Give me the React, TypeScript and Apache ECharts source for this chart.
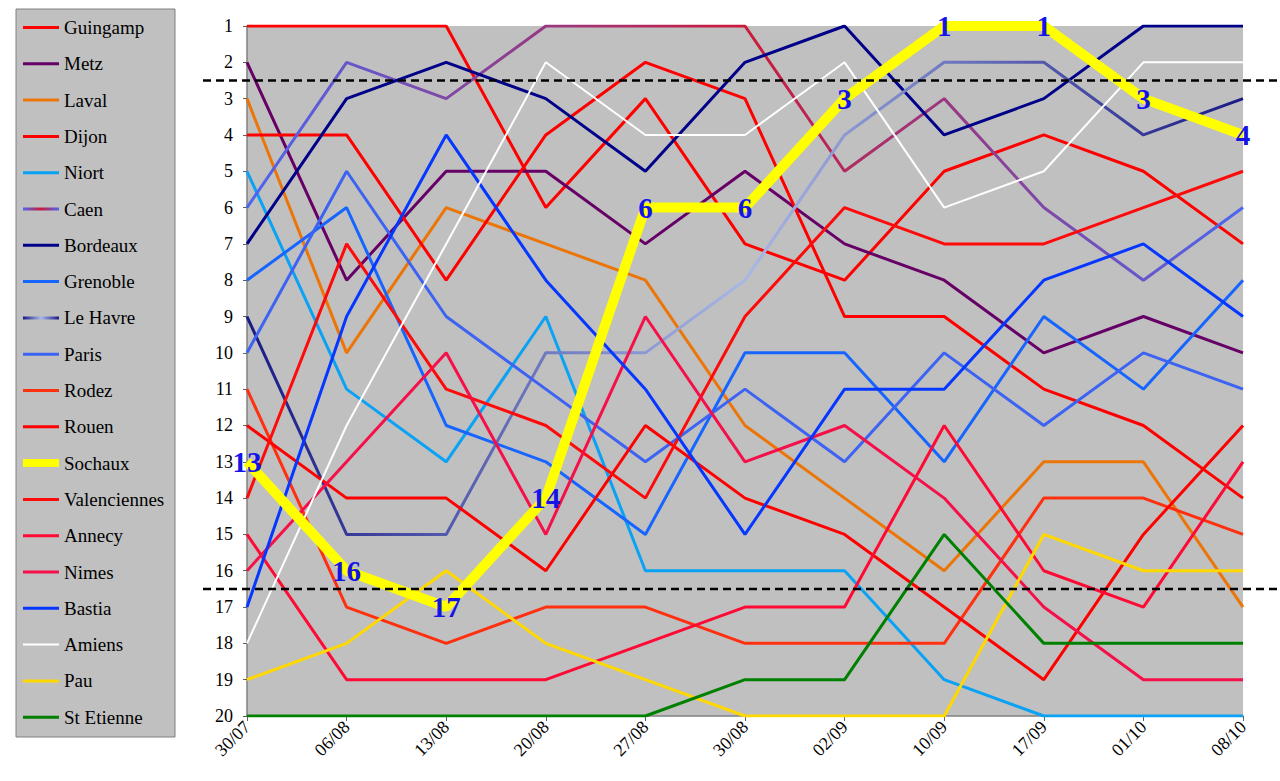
import { useEffect, useRef } from 'react';
import * as echarts from 'echarts';

// match days
const dates = ['30/07', '06/08', '13/08', '20/08', '27/08', '30/08', '02/09', '10/09', '17/09', '01/10', '08/10'];

// ranking of each club after each match day
const guingamp = [1, 1, 1, 6, 3, 7, 8, 5, 4, 5, 7];
const metz = [2, 8, 5, 5, 7, 5, 7, 8, 10, 9, 10];
const laval = [3, 10, 6, 7, 8, 12, 14, 16, 13, 13, 17];
const dijon = [4, 4, 8, 4, 2, 3, 9, 9, 11, 12, 14];
const niort = [5, 11, 13, 9, 16, 16, 16, 19, 20, 20, 20];
const caen = [6, 2, 3, 1, 1, 1, 5, 3, 6, 8, 6];
const bordeaux = [7, 3, 2, 3, 5, 2, 1, 4, 3, 1, 1];
const grenoble = [8, 6, 12, 13, 15, 10, 10, 13, 9, 11, 8];
const leHavre = [9, 15, 15, 10, 10, 8, 4, 2, 2, 4, 3];
const paris = [10, 5, 9, 11, 13, 11, 13, 10, 12, 10, 11];
const rodez = [11, 17, 18, 17, 17, 18, 18, 18, 14, 14, 15];
const rouen = [12, 14, 14, 16, 12, 14, 15, 17, 19, 15, 12];
const sochaux = [13, 16, 17, 14, 6, 6, 3, 1, 1, 3, 4];
const valenciennes = [14, 7, 11, 12, 14, 9, 6, 7, 7, 6, 5];
const annecy = [15, 19, 19, 19, 18, 17, 17, 12, 16, 17, 13];
const nimes = [16, 13, 10, 15, 9, 13, 12, 14, 17, 19, 19];
const bastia = [17, 9, 4, 8, 11, 15, 11, 11, 8, 7, 9];
const amiens = [18, 12, 7, 2, 4, 4, 2, 6, 5, 2, 2];
const pau = [19, 18, 16, 18, 19, 20, 20, 20, 15, 16, 16];
const stEtienne = [20, 20, 20, 20, 20, 19, 19, 15, 18, 18, 18];

const teams = [
    'Guingamp', 'Metz', 'Laval', 'Dijon', 'Niort', 'Caen', 'Bordeaux', 'Grenoble', 'Le Havre', 'Paris',
    'Rodez', 'Rouen', 'Sochaux', 'Valenciennes', 'Annecy', 'Nimes', 'Bastia', 'Amiens', 'Pau', 'St Etienne'
];
const ranks = [
    guingamp, metz, laval, dijon, niort, caen, bordeaux, grenoble, leHavre, paris,
    rodez, rouen, sochaux, valenciennes, annecy, nimes, bastia, amiens, pau, stEtienne
];

// promotion / relegation cut-offs
const cutLines = [2.5, 16.5];

const SERIF = 'Liberation Serif';

const ICON_W = 36;

// blended lines: colour at both ends, another one in the middle
const blends: Record<string, [string, string]> = {
    'Caen': ['#4c66f0', '#cc1a3a'],
    'Le Havre': ['#1a1a85', '#a8b8e6']
};

const gradient = (name: string, global = false) => {
    const [end, mid] = blends[name];
    const stops = [
        { offset: 0, color: end },
        { offset: 0.5, color: mid },
        { offset: 1, color: end }
    ];
    // the legend sample is a flat line, so it needs a gradient in pixels
    return global
        ? new echarts.graphic.LinearGradient(0, 0, ICON_W, 0, stops, true)
        : new echarts.graphic.LinearGradient(0, 0, 1, 0, stops);
};

const plainColor: Record<string, string> = {
    'Guingamp': '#ff0000',
    'Metz': '#660066',
    'Laval': '#ec7508',
    'Dijon': '#ff0000',
    'Niort': '#0aa2f5',
    'Bordeaux': '#000088',
    'Grenoble': '#1765ff',
    'Paris': '#3d63f2',
    'Rodez': '#ff3010',
    'Rouen': '#ff0000',
    'Sochaux': '#ffff00',
    'Valenciennes': '#ff0a0a',
    'Annecy': '#ff0a35',
    'Nimes': '#f5104a',
    'Bastia': '#0537ff',
    'Amiens': '#ffffff',
    'Pau': '#ffd800',
    'St Etienne': '#008000'
};

const colorOf = (name: string, forLegend = false) =>
    blends[name] ? gradient(name, forLegend) : plainColor[name];

const lineWidth = (name: string) => (name === 'Sochaux' ? 10 : name === 'Amiens' ? 2 : 3);

const App = () => {
    const chartRef = useRef<HTMLDivElement>(null);

    useEffect(() => {
        if (!chartRef.current) return;
        const chart = echarts.init(chartRef.current, null, { renderer: 'svg' });

        const series: any[] = teams.map((name, i) => ({
            name,
            type: 'line',
            data: ranks[i],
            symbol: 'none',
            z: name === 'Sochaux' ? 3 : 2,
            lineStyle: { color: colorOf(name), width: lineWidth(name) },
            itemStyle: { color: blends[name] ? blends[name][0] : plainColor[name] }
        }));

        // numbers written on the Sochaux line
        series.push({
            name: 'Sochaux labels',
            type: 'scatter',
            data: sochaux,
            symbolSize: 0,
            clip: false,
            z: 5,
            itemStyle: { color: '#1414e6' },
            label: {
                show: true,
                position: 'inside',
                formatter: '{c}',
                fontFamily: SERIF,
                fontWeight: 'bold',
                fontSize: 29,
                color: '#1414e6',
                textBorderWidth: 0,
                opacity: 1
            }
        });

        chart.setOption({
            animation: false,
            backgroundColor: '#ffffff',
            textStyle: { fontFamily: SERIF },
            grid: { left: 247, right: 37, top: 26, bottom: 65, show: true, backgroundColor: '#c0c0c0', borderWidth: 0 },
            legend: {
                data: teams.map((name) => ({
                    name,
                    lineStyle: {
                        color: colorOf(name, true),
                        width: name === 'Sochaux' ? 8 : lineWidth(name)
                    }
                })),
                orient: 'vertical',
                left: 14,
                top: 13,
                itemWidth: ICON_W,
                itemHeight: 19,
                itemGap: 17.3,
                selectedMode: false,
                itemStyle: { opacity: 0 },
                textStyle: { fontFamily: SERIF, fontSize: 19, color: '#000' }
            },
            xAxis: {
                type: 'category',
                data: dates,
                boundaryGap: false,
                axisLine: { lineStyle: { color: '#808080', width: 1.5 } },
                axisTick: { show: true, length: 5, lineStyle: { color: '#606060' } },
                axisLabel: { rotate: 45, fontFamily: SERIF, fontSize: 18, color: '#000', margin: 8 },
                splitLine: { show: false }
            },
            yAxis: {
                type: 'value',
                inverse: true,
                min: 1,
                max: 20,
                interval: 1,
                axisLine: { show: true, lineStyle: { color: '#808080', width: 1.5 } },
                axisTick: { show: true, length: 4, lineStyle: { color: '#606060' } },
                axisLabel: { fontFamily: SERIF, fontSize: 18, color: '#000', margin: 14 },
                splitLine: { show: false }
            },
            series
        });

        // legend frame and the dashed cut-off lines (drawn at scale positions)
        const dashed = cutLines.map((v, i) => {
            const y = chart.convertToPixel({ yAxisIndex: 0 }, v) as number;
            return {
                id: 'cut' + i,
                type: 'line',
                z: 10,
                shape: { x1: 203, y1: y, x2: 1280, y2: y },
                style: { stroke: '#000', lineWidth: 2.5, lineDash: [8, 5] }
            };
        });
        chart.setOption({
            graphic: [
                {
                    id: 'legendBox',
                    type: 'rect',
                    z: -1,
                    shape: { x: 16, y: 9, width: 159, height: 728 },
                    style: { fill: '#c0c0c0', stroke: '#808080', lineWidth: 1 }
                },
                ...dashed
            ]
        });

        return () => chart.dispose();
    }, []);

    return <div ref={chartRef} style={{ width: 1280, height: 781, position: 'absolute', left: 0, top: 0 }} />;
};

export default App;
